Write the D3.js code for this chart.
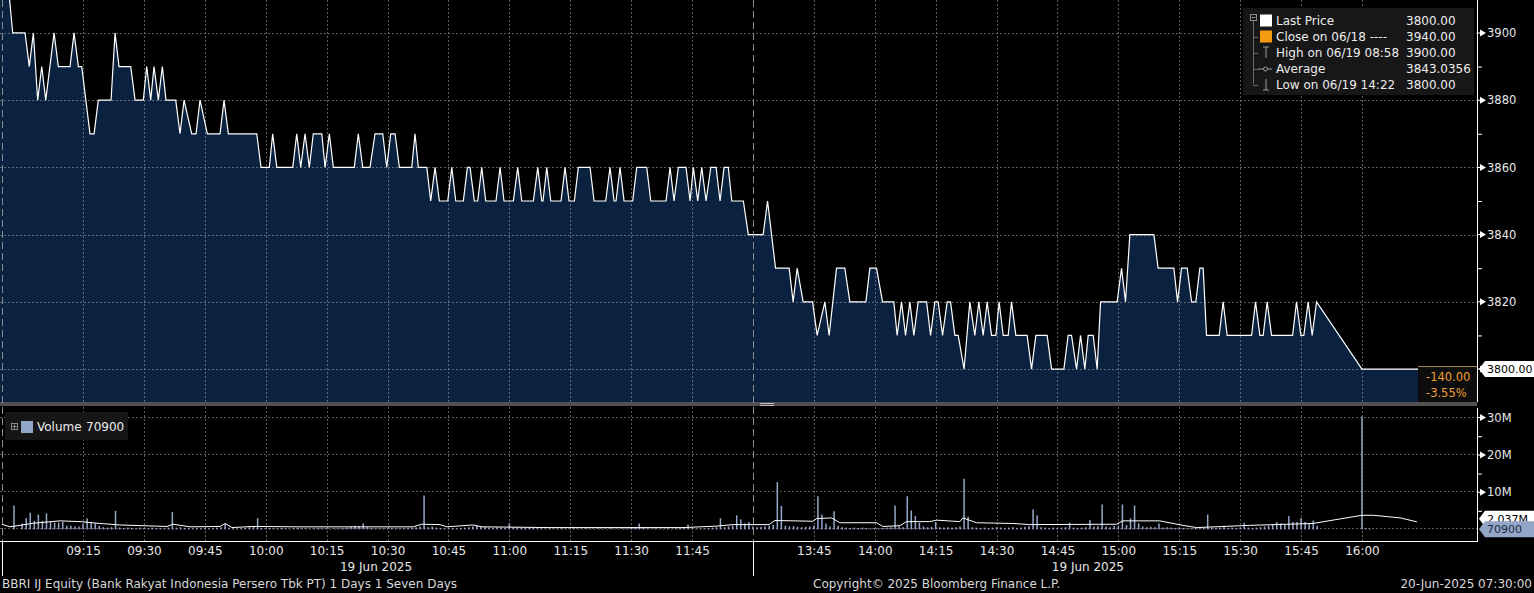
<!DOCTYPE html>
<html><head><meta charset="utf-8">
<script src="https://cdn.jsdelivr.net/npm/d3@7"></script>
<style>
html,body{margin:0;padding:0;background:#000;overflow:hidden}
svg{display:block}
text{font-family:"DejaVu Sans",Verdana,sans-serif;font-size:12px}
</style></head><body>
<svg id="c" width="1534" height="593"></svg>
<script>
// ---------------- DATA ----------------
const priceTimes = [
"08:54:33","08:57:41","09:00:43","09:01:46","09:02:46","09:03:50","09:04:50","09:05:49","09:07:52","09:08:55",
"09:11:48","09:12:47","09:13:51","09:14:41","09:16:43","09:17:43","09:18:46","09:21:54","09:22:53","09:23:52",
"09:26:45","09:27:49","09:29:51","09:30:41","09:31:40","09:32:29","09:33:33","09:34:32","09:35:26","09:37:50",
"09:38:53","09:39:53","09:41:46","09:42:50","09:43:49","09:45:37","09:48:45","09:49:44","09:50:47","09:57:47",
"09:58:50","10:00:53","10:01:43","10:02:43","10:06:39","10:07:38","10:08:37","10:09:41","10:10:44","10:11:43",
"10:13:48","10:14:37","10:15:40","10:16:39","10:21:49","10:22:48","10:23:53","10:25:41","10:26:55","10:28:49",
"10:29:48","10:30:47","10:31:51","10:32:55","10:35:58","10:36:46","10:37:35","10:39:40","10:40:38","10:41:42",
"10:42:46","10:44:50","10:45:49","10:46:48","10:48:40","10:49:40","10:50:19","10:51:23","10:52:13","10:53:12",
"10:54:11","10:56:43","10:57:43","10:58:41","11:00:59","11:02:04","11:03:03","11:05:55","11:07:00","11:07:59",
"11:08:18","11:09:13","11:10:12","11:12:44","11:13:43","11:14:42","11:16:01","11:17:00","11:19:53","11:20:52",
"11:23:44","11:24:48","11:25:47","11:26:17","11:27:16","11:28:15","11:30:23","11:31:23","11:33:50","11:34:50",
"11:38:36","11:39:35","11:40:34","11:41:38","11:43:31","11:44:31","11:45:19","11:46:24","11:47:23","11:48:27",
"11:49:37","11:50:55","11:51:54","11:52:53","11:53:56","11:54:47","11:57:38","11:58:52",
"13:32:31","13:33:36","13:35:34","13:38:55","13:39:54","13:40:53","13:42:22","13:44:41","13:45:49","13:47:43",
"13:48:46","13:50:35","13:52:38","13:53:52","13:57:49","13:58:48","14:00:26","14:01:55","14:04:42","14:05:31",
"14:06:36","14:07:35","14:08:39","14:09:38","14:10:41","14:12:46","14:13:45","14:14:48","14:15:37","14:16:42",
"14:17:50","14:18:40","14:19:44","14:20:33","14:22:00","14:23:25","14:24:39","14:25:38","14:26:42","14:27:41",
"14:28:46","14:29:50","14:30:38","14:31:38","14:32:52","14:33:41","14:34:45","14:37:32","14:38:37","14:39:41",
"14:42:28","14:43:33","14:46:35","14:47:38","14:48:28","14:49:42","14:50:41","14:51:45","14:52:34","14:53:48",
"14:54:47","14:55:37","14:59:42","15:00:47","15:01:46","15:02:50","15:08:45","15:09:48","15:13:40","15:14:35",
"15:15:34","15:16:57","15:18:02","15:19:05","15:20:04","15:20:53","15:21:43","15:24:50","15:25:49","15:26:48",
"15:32:49","15:33:47","15:34:51","15:35:40","15:36:39","15:37:44","15:42:55","15:43:53","15:44:57","15:45:41",
"15:46:45","15:47:44","15:48:49","16:00:00","16:13:50"];
const priceValues = [
3940,3900,3900,3890,3900,3880,3890,3880,3900,3890,
3890,3900,3890,3890,3870,3870,3880,3880,3900,3890,
3890,3880,3880,3890,3880,3890,3880,3890,3880,3880,
3870,3880,3870,3870,3880,3870,3870,3880,3870,3870,
3860,3860,3870,3860,3860,3870,3860,3870,3860,3870,
3870,3860,3870,3860,3860,3870,3860,3860,3870,3870,
3860,3870,3870,3860,3860,3870,3860,3860,3850,3860,
3850,3850,3860,3850,3850,3860,3860,3850,3850,3860,
3850,3850,3860,3850,3850,3860,3850,3850,3860,3850,
3850,3860,3850,3850,3860,3850,3850,3860,3860,3850,
3850,3860,3850,3850,3860,3850,3850,3860,3860,3850,
3850,3860,3850,3860,3860,3850,3860,3850,3860,3850,
3860,3860,3850,3860,3860,3850,3850,3840,
3840,3850,3830,3830,3820,3830,3820,3820,3810,3820,
3810,3830,3830,3820,3820,3830,3830,3820,3820,3810,
3820,3810,3820,3810,3820,3820,3810,3820,3820,3810,
3820,3820,3810,3810,3800,3820,3810,3820,3810,3820,
3810,3810,3820,3810,3810,3820,3810,3810,3800,3810,
3810,3800,3800,3810,3810,3800,3810,3800,3810,3810,
3800,3820,3820,3830,3820,3840,3840,3830,3830,3820,
3830,3830,3820,3820,3830,3830,3810,3810,3820,3810,
3810,3820,3810,3810,3820,3810,3810,3820,3810,3810,
3820,3810,3820,3800,3800];

// volume per minute (millions of shares)
const volAmStart = "08:58";
const volAm = [
6.4,0,
1.6,3.0,4.5,2.3,4.0,2.3,4.3,2.0,1.8,1.8,
2.0,1.0,1.0,0.8,0.8,1.5,3.0,2.0,1.6,1.0,
0.6,0.5,0.6,5.0,0.5,0.4,0.5,0.4,0.3,0.5,
0.4,0.3,0.5,0.4,0.4,0.3,0.5,4.7,0.5,0.6,
0.4,0.4,0.3,0.4,0.3,0.4,0.3,0.4,0.5,0.6,
1.5,0.5,0.3,0.2,0.3,0.4,0.6,0.8,3.0,0.4,
0.3,0.4,0.3,0.3,0.4,0.3,0.2,0.3,0.4,0.3,
0.3,0.2,0.3,0.4,0.3,0.3,0.2,0.3,0.3,0.4,
0.5,0.8,1.0,0.9,1.6,0.6,0.4,0.3,0.3,0.3,
0.3,0.4,0.3,0.3,0.3,0.4,0.5,0.6,0.8,9.1,
0.6,0.8,0.5,0.4,0.3,0.3,0.4,0.3,0.4,0.5,
0.6,0.8,1.0,0.9,0.7,0.5,0.4,0.6,0.5,0.4,
1.6,0.5,0.6,0.4,0.5,0.4,0.5,0.3,0.3,0.2,
0.3,0.2,0.2,0.3,0.2,0.2,0.3,0.2,0.2,0.3,
0.2,0.2,0.3,0.2,0.2,0.3,0.2,0.2,0.3,0.3,
0.4,0.6,1.6,0.5,0.3,0.2,0.3,0.2,0.2,0.3,
0.2,0.3,0.5,0.6,1.3,0.3,0.2,0.2,0.3,0.4,
0.5,0.6,3.0,0.6,0.8,1.0,3.8,2.7,1.6,2.0];
const volPmStart = "13:30";
const volPm = [
0.8,0.6,0.7,0.8,1.0,1.2,12.7,6.3,1.0,0.8,
0.9,0.7,0.6,0.7,0.8,1.0,8.9,4.0,1.6,0.8,
4.9,1.0,0.6,0.5,0.4,0.5,0.4,0.5,0.4,0.3,
0.4,0.3,0.4,0.5,0.6,6.4,0.8,0.6,8.9,5.1,
3.6,1.8,0.8,0.6,0.7,2.0,0.6,0.5,0.6,0.5,
0.6,0.8,13.6,3.4,0.6,0.5,0.4,0.5,0.4,0.5,
0.6,0.5,0.4,0.5,0.6,0.4,0.5,0.7,0.9,5.4,
3.8,0.6,0.5,0.4,0.5,0.4,0.5,0.6,1.8,0.5,
0.4,0.5,0.6,2.5,0.8,0.9,6.7,0.8,0.6,0.9,
1.0,6.7,1.2,3.0,6.4,1.6,0.8,0.6,0.7,0.6,
1.6,0.5,0.6,0.5,0.4,0.5,0.4,0.3,0.3,0.4,
0.3,0.4,4.0,0.5,0.4,0.5,1.0,0.4,0.5,0.4,
0.5,1.8,0.5,0.4,0.5,0.6,0.8,1.0,1.2,2.0,
1.6,1.2,3.6,2.0,2.0,3.1,2.0,1.6,2.4,1.0];
const volCloseTimes = ["16:00","16:01","16:02"];
const volCloseValues = [30.3,0.3,0.2];

// volume moving average line (millions)
const avgTimes = ["08:55:00","08:57:00","08:59:30","09:02:40","09:09:20","09:14:15","09:19:10","09:24:06","09:29:47","09:35:41",
"09:37:10","09:41:21","09:48:45","09:50:00","09:51:42","09:56:52","10:08:27","10:36:17","10:38:25","10:42:56",
"10:44:34","10:51:00","10:53:12","11:10:00","11:42:47","11:51:10","11:55:06","13:34:00","13:35:24","13:44:45",
"13:45:40","13:49:21","13:51:24","14:00:27","14:02:00","14:06:11","14:07:50","14:13:34","14:15:13","14:20:58",
"14:21:42","14:25:04","14:34:01","14:38:12","14:59:33","15:01:06","15:10:13","15:15:53","15:19:15","15:32:23",
"15:47:54","16:00:00","16:02:46","16:09:25","16:13:32"];
const avgValues = [1.4,0.7,1.1,1.65,2.3,2.1,1.6,1.2,1.0,0.8,
1.4,0.7,0.8,1.6,0.5,0.8,0.7,0.7,1.4,1.3,
0.7,1.2,0.7,0.5,0.5,0.9,1.3,1.3,2.4,2.2,
2.9,3.1,1.8,1.8,0.8,1.0,2.1,2.1,2.5,2.1,
3.1,1.8,1.6,1.3,1.4,2.3,2.3,1.1,0.5,1.1,
1.6,3.8,3.8,3.1,2.04];

const priceTicks = [3800,3820,3840,3860,3880,3900];
const priceMinorTicks = [3810,3830,3850,3870,3890];
const volTicks = [10,20,30];
const volMinorTicks = [5,15,25];
const volGridTicks = [0,10,20,30];
const timeTicks = ["09:15","09:30","09:45","10:00","10:15","10:30","10:45","11:00","11:15","11:30","11:45",
"13:45","14:00","14:15","14:30","14:45","15:00","15:15","15:30","15:45","16:00"];
const sessionStarts = ["08:55","13:30"];
const dateLabels = ["19 Jun 2025","19 Jun 2025"];
const dateLabelTimes = ["10:27:10","14:52:30"];

const legendLabels = ["Last Price","Close on 06/18 ----","High on 06/19 08:58","Average","Low on 06/19 14:22"];
const legendValues = ["3800.00","3940.00","3900.00","3843.0356","3800.00"];
const lastPrice = 3800, netChange = "-140.00", pctChange = "-3.55%";
const lastVolume = 70900, lastAvgLabel = "2.037M";

// ---------------- HELPERS ----------------
function tmin(s){ // trading-clock minutes (lunch break removed)
  const p = s.split(":").map(Number);
  let m = p[0]*60 + p[1] + (p[2]||0)/60;
  if (m >= 810) m -= 90;
  return m;
}
const W = 1534, PR = 1477;
const PT = 0, PB = 402, VT = 407, VB = 541;
const FONT = '"DejaVu Sans",Verdana,sans-serif';

const x = d3.scaleLinear().domain([tmin("08:54:33"), tmin("16:28:20")]).range([0, PR]);
const y = d3.scaleLinear().domain([3790.2, 3909.8]).range([PB, PT]);
const yv = d3.scaleLinear().domain([-3.1, 32.85]).range([VB, VT]);

const svg = d3.select("#c");
svg.append("rect").attr("width", W).attr("height", 593).attr("fill", "#000");
const defs = svg.append("defs");
defs.append("clipPath").attr("id","pc").append("rect").attr("x",0).attr("y",PT).attr("width",PR).attr("height",PB-PT);
defs.append("clipPath").attr("id","vc").append("rect").attr("x",0).attr("y",VT).attr("width",PR).attr("height",VB-VT);

const priceData = priceTimes.map((s,i)=>({t:tmin(s), p:priceValues[i]}));

// ---------- PRICE PANEL ----------
const gp = svg.append("g").attr("clip-path","url(#pc)");
gp.append("path").datum(priceData)
  .attr("d", d3.area().x(d=>x(d.t)).y0(PB).y1(d=>y(d.p)))
  .attr("fill","#0a2240");

const gridStyle = sel => sel.attr("stroke","#9a9a9a").attr("stroke-opacity",0.6)
  .attr("stroke-width",1).attr("stroke-dasharray","2,2").attr("shape-rendering","crispEdges");

gp.selectAll("line.hg").data(priceTicks).join("line")
  .attr("x1",0).attr("x2",PR).attr("y1",d=>Math.round(y(d))+0.5).attr("y2",d=>Math.round(y(d))+0.5).call(gridStyle);
gp.selectAll("line.vg").data(timeTicks).join("line")
  .attr("x1",d=>Math.round(x(tmin(d)))+0.5).attr("x2",d=>Math.round(x(tmin(d)))+0.5).attr("y1",PT).attr("y2",PB).call(gridStyle);

gp.append("path").datum(priceData)
  .attr("d", d3.line().x(d=>x(d.t)).y(d=>y(d.p)))
  .attr("fill","none").attr("stroke","#ffffff").attr("stroke-width",1.2);

// ---------- SEPARATOR ----------
svg.append("rect").attr("x",0).attr("y",PB).attr("width",PR).attr("height",4).attr("fill","#505050");
[403.5,405.5].forEach(yy=>svg.append("line").attr("x1",760).attr("x2",774).attr("y1",yy).attr("y2",yy)
  .attr("stroke","#bbbbbb").attr("stroke-width",1));

// ---------- VOLUME PANEL ----------
const gv = svg.append("g").attr("clip-path","url(#vc)");
gv.selectAll("line.vhg").data(volGridTicks).join("line")
  .attr("x1",0).attr("x2",PR).attr("y1",d=>Math.round(yv(d))-0.5).attr("y2",d=>Math.round(yv(d))-0.5).call(gridStyle);
gv.selectAll("line.vvg").data(timeTicks).join("line")
  .attr("x1",d=>Math.round(x(tmin(d)))+0.5).attr("x2",d=>Math.round(x(tmin(d)))+0.5).attr("y1",VT).attr("y2",VB).call(gridStyle);

const volData = [];
const a0 = tmin(volAmStart), p0 = tmin(volPmStart);
volAm.forEach((v,i)=>volData.push({t:a0+i, v}));
volPm.forEach((v,i)=>volData.push({t:p0+i, v}));
volCloseTimes.forEach((s,i)=>volData.push({t:tmin(s), v:volCloseValues[i]}));

gv.selectAll("rect.vb").data(volData.filter(d=>d.v>0)).join("rect")
  .attr("x",d=>x(d.t)-0.75).attr("width",1.5)
  .attr("y",d=>yv(d.v)).attr("height",d=>yv(0)-yv(d.v))
  .attr("fill","#93a6c8");

const avgData = avgTimes.map((s,i)=>({t:tmin(s), v:avgValues[i]}));
gv.append("path").datum(avgData)
  .attr("d", d3.line().x(d=>x(d.t)).y(d=>yv(d.v)))
  .attr("fill","none").attr("stroke","#ffffff").attr("stroke-width",1);

// ---------- SESSION SEPARATORS ----------
sessionStarts.forEach(s=>{
  const xx = Math.round(x(tmin(s)))+0.5;
  svg.append("line").attr("x1",xx).attr("x2",xx).attr("y1",0).attr("y2",VB)
    .attr("stroke","#8c8c8c").attr("stroke-dasharray","7,4").attr("stroke-width",1);
  svg.append("line").attr("x1",xx).attr("x2",xx).attr("y1",VB).attr("y2",576)
    .attr("stroke","#ffffff").attr("stroke-width",1);
});

// ---------- RIGHT AXES ----------
function styleAxisText(g, size){ g.selectAll("text").attr("fill","#e8e8e8").style("font-size",size+"px")
  .style("font-family",FONT); g.select(".domain").remove(); }

const ay = svg.append("g").attr("transform",`translate(${PR},0)`)
  .call(d3.axisRight(y).tickValues(priceTicks).tickSize(0).tickPadding(10)
    .tickFormat(d=> d===lastPrice ? "" : d3.format("d")(d)));
styleAxisText(ay, 11.5);
const ayMin = svg.append("g").attr("transform",`translate(${PR},0)`)
  .call(d3.axisRight(y).tickValues(priceMinorTicks).tickSize(5).tickFormat(""));
ayMin.select(".domain").remove(); ayMin.selectAll("line").attr("stroke","#fff");
priceTicks.forEach(v=>{
  const yy = y(v);
  svg.append("path").attr("d",`M${PR},${yy-0.5}h3v1h-3z M${PR+3},${yy-3.5} L${PR+9},${yy} L${PR+3},${yy+3.5}Z`).attr("fill","#fff");
});
svg.append("line").attr("x1",PR+0.5).attr("x2",PR+0.5).attr("y1",0).attr("y2",PB).attr("stroke","#fff");

const av = svg.append("g").attr("transform",`translate(${PR},0)`)
  .call(d3.axisRight(yv).tickValues(volTicks).tickSize(0).tickPadding(10).tickFormat(d=>d+"M"));
styleAxisText(av, 11.5);
const avMin = svg.append("g").attr("transform",`translate(${PR},0)`)
  .call(d3.axisRight(yv).tickValues(volMinorTicks).tickSize(5).tickFormat(""));
avMin.select(".domain").remove(); avMin.selectAll("line").attr("stroke","#fff");
volTicks.forEach(v=>{
  const yy = yv(v);
  svg.append("path").attr("d",`M${PR},${yy-0.5}h3v1h-3z M${PR+3},${yy-3.5} L${PR+9},${yy} L${PR+3},${yy+3.5}Z`).attr("fill","#fff");
});
svg.append("line").attr("x1",PR+0.5).attr("x2",PR+0.5).attr("y1",VT+1).attr("y2",VB).attr("stroke","#fff");

// ---------- BOTTOM AXIS ----------
const ax = svg.append("g").attr("transform",`translate(0,${VB})`)
  .call(d3.axisBottom(x).tickValues(timeTicks.map(tmin)).tickSize(0).tickPadding(5).tickFormat((d,i)=>timeTicks[i]));
styleAxisText(ax, 12);
svg.append("line").attr("x1",0).attr("x2",PR+1).attr("y1",VB+0.5).attr("y2",VB+0.5).attr("stroke","#fff");

dateLabels.forEach((s,i)=>svg.append("text").attr("x",x(tmin(dateLabelTimes[i]))).attr("y",571)
  .attr("text-anchor","middle").attr("fill","#e8e8e8").text(s));

svg.append("text").attr("x",2).attr("y",588).attr("fill","#d8d8d8")
  .text("BBRI IJ Equity (Bank Rakyat Indonesia Persero Tbk PT) 1 Days 1 Seven Days");
svg.append("text").attr("x",813).attr("y",588).attr("fill","#d8d8d8")
  .text("Copyright\u00A9 2025 Bloomberg Finance L.P.");
svg.append("text").attr("x",1532).attr("y",588).attr("text-anchor","end").attr("fill","#d8d8d8")
  .text("20-Jun-2025 07:30:00");

// ---------- LAST PRICE TAG & CHANGE BOX ----------
const ly = y(lastPrice);
svg.append("rect").attr("x",1418).attr("y",ly-3).attr("width",PR-1418).attr("height",PB-ly+3).attr("fill","#0d0d0d");
svg.append("line").attr("x1",1418).attr("x2",PR).attr("y1",ly-2.5).attr("y2",ly-2.5).attr("stroke","#a8854f");
svg.append("text").attr("x",1426).attr("y",ly+12).attr("fill","#f0a030").style("font-size","11.5px").text(netChange);
svg.append("text").attr("x",1426).attr("y",ly+28).attr("fill","#f0a030").style("font-size","11.5px").text(pctChange);
svg.append("path").attr("d",`M${PR+2},${ly} L${PR+8},${ly-8} H${W} V${ly+8} H${PR+8} Z`).attr("fill","#fff");
svg.append("text").attr("x",PR+10).attr("y",ly).attr("dy","0.35em").attr("fill","#000").style("font-size","11px")
  .text(d3.format(".2f")(lastPrice));

// volume tags (the average tag is partly hidden behind the volume tag, as in the original)
const avy = yv(avgValues[avgValues.length-1]) - 3;
svg.append("path").attr("d",`M${PR+2},${avy} L${PR+8},${avy-8} H${W} V${avy+8} H${PR+8} Z`).attr("fill","#fff");
svg.append("text").attr("x",PR+10).attr("y",avy).attr("dy","0.35em").attr("fill","#000").style("font-size","11px").text(lastAvgLabel);
const lvy = yv(lastVolume/1e6);
svg.append("path").attr("d",`M${PR+2},${lvy} L${PR+8},${lvy-8} H${W} V${lvy+8} H${PR+8} Z`).attr("fill","#93a6c8");
svg.append("text").attr("x",PR+10).attr("y",lvy).attr("dy","0.35em").attr("fill","#1b2a44").style("font-size","11px").text(lastVolume);

// ---------- PRICE LEGEND ----------
const lg = svg.append("g");
lg.append("rect").attr("x",1243).attr("y",8).attr("width",231).attr("height",87).attr("fill","#171717");
const rowY = i => 20.5 + i*16;
lg.append("rect").attr("x",1250.5).attr("y",14.5).attr("width",6).attr("height",6).attr("fill","none").attr("stroke","#8a8a8a");
lg.append("line").attr("x1",1251.5).attr("x2",1255.5).attr("y1",17.5).attr("y2",17.5).attr("stroke","#8a8a8a");
lg.append("line").attr("x1",1253.5).attr("x2",1253.5).attr("y1",21).attr("y2",rowY(4)).attr("stroke","#6a6a6a");
[1,2,3,4].forEach(i=>lg.append("line").attr("x1",1253.5).attr("x2",1258).attr("y1",Math.round(rowY(i))+0.5).attr("y2",Math.round(rowY(i))+0.5).attr("stroke","#6a6a6a"));
lg.append("rect").attr("x",1260).attr("y",rowY(0)-6).attr("width",12).attr("height",12).attr("fill","#ffffff");
lg.append("rect").attr("x",1260).attr("y",rowY(1)-6).attr("width",12).attr("height",12).attr("fill","#f39a12");
const ic = "#9a9a9a";
lg.append("path").attr("d",`M1263,${rowY(2)-5.5}h6 M1266,${rowY(2)-5.5}v11`).attr("stroke",ic).attr("fill","none");
lg.append("path").attr("d",`M1258,${rowY(3)+0.5}h14`).attr("stroke",ic).attr("fill","none");
lg.append("circle").attr("cx",1265.5).attr("cy",rowY(3)+0.5).attr("r",2).attr("fill","#171717").attr("stroke",ic);
lg.append("path").attr("d",`M1266,${rowY(4)-5.5}v11 M1263,${rowY(4)+5.5}h6`).attr("stroke",ic).attr("fill","none");
legendLabels.forEach((s,i)=>{
  lg.append("text").attr("x",1276).attr("y",rowY(i)).attr("dy","0.35em").attr("fill","#ececec").text(s);
  lg.append("text").attr("x",1406).attr("y",rowY(i)).attr("dy","0.35em").attr("fill","#ececec").text(legendValues[i]);
});

// ---------- VOLUME LEGEND ----------
const vg = svg.append("g");
vg.append("rect").attr("x",5).attr("y",412).attr("width",123).attr("height",28).attr("fill","#161616");
vg.append("rect").attr("x",11.5).attr("y",423.5).attr("width",6).attr("height",6).attr("fill","none").attr("stroke","#8a8a8a");
vg.append("path").attr("d","M12.5,426.5h4 M14.5,424.5v4").attr("stroke","#8a8a8a");
vg.append("rect").attr("x",21).attr("y",421).attr("width",12).attr("height",12).attr("fill","#93a6c8");
vg.append("text").attr("x",37).attr("y",427).attr("dy","0.35em").attr("fill","#ececec").text("Volume");
vg.append("text").attr("x",86).attr("y",427).attr("dy","0.35em").attr("fill","#ececec").text(lastVolume);
</script>
</body></html>
